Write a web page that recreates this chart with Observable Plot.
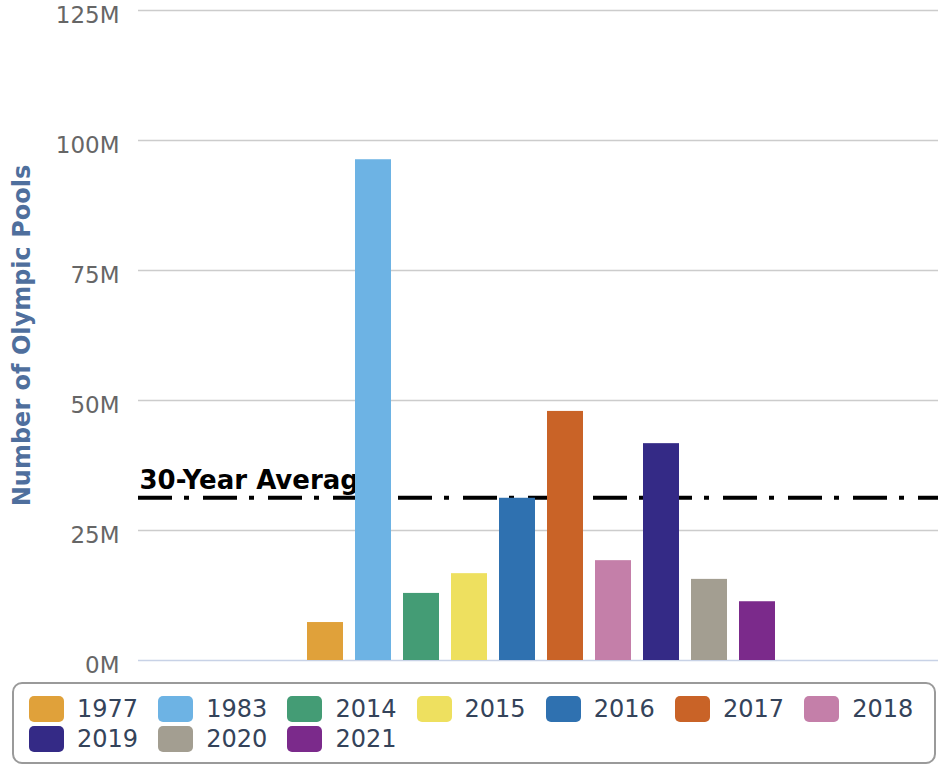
<!DOCTYPE html>
<html>
<head>
<meta charset="utf-8">
<script src="https://cdn.jsdelivr.net/npm/d3@7"></script>
<script src="https://cdn.jsdelivr.net/npm/@observablehq/plot@0.6"></script>
<style>
  html, body { margin: 0; padding: 0; background: #fff; }
  #legend {
    box-sizing: border-box;
    margin: 4px 0 0 12px;
    width: 924px;
    height: 82px;
    border: 2px solid #9a9a9a;
    border-radius: 10px;
    padding: 12px 0 0 15px;
    display: flex;
    flex-wrap: wrap;
    align-content: flex-start;
    font-family: "DejaVu Sans", sans-serif;
  }
  .item { width: 129.2px; height: 30px; display: flex; align-items: flex-start; }
  .sw { width: 35px; height: 26px; border-radius: 5px; margin-right: 13px; flex: none; }
  .lab { font-size: 24px; line-height: 26px; color: #34435a; }
</style>
</head>
<body>
<div id="chart"></div>
<div id="legend"></div>
<script>
const years = ["1977", "1983", "2014", "2015", "2016", "2017", "2018", "2019", "2020", "2021"];
const values = [7.3e6, 96.3e6, 12.9e6, 16.7e6, 31.2e6, 47.9e6, 19.2e6, 41.7e6, 15.6e6, 11.3e6];
const colors = ["#e0a13a", "#6db3e4", "#449c75", "#eee05f", "#2f71b0", "#c96327", "#c47fa9", "#342a86", "#a39e91", "#7b2a8b"];
const yTicks = [0, 25e6, 50e6, 75e6, 100e6, 125e6];
const average = 31.3e6;
const averageLabel = "30-Year Average";
const yTitle = "Number of Olympic Pools";

const data = years.map((y, i) => ({year: y, value: values[i]}));

const chart = Plot.plot({
  width: 938,
  height: 678,
  marginTop: 10,
  marginBottom: 18,
  marginLeft: 138,
  marginRight: 0,
  style: {fontFamily: "DejaVu Sans, sans-serif", background: "#fff"},
  x: {type: "band", domain: years, range: [305, 778], paddingInner: 0.24, paddingOuter: 0, axis: null},
  y: {domain: [0, 125e6], axis: null},
  color: {domain: years, range: colors},
  marks: [
    Plot.ruleY(yTicks.filter(d => d > 0), {stroke: "#cccccc", strokeWidth: 1.5}),
    Plot.ruleY([0], {stroke: "#c8d2e6", strokeWidth: 1.5}),
    Plot.axisY(yTicks, {
      tickSize: 0, tickPadding: 19, fontSize: 23, fill: "#666666", dy: 5,
      tickFormat: d => d / 1e6 + "M", label: null
    }),
    Plot.text([yTitle], {
      frameAnchor: "left", rotate: -90, dx: -116, text: d => d, textAnchor: "middle",
      fontSize: 24, fontWeight: "bold", fill: "#4f6f9d"
    }),
    Plot.ruleY([average], {stroke: "#000", strokeWidth: 4, strokeDasharray: "34,12,5,14"}),
    Plot.text([averageLabel], {
      frameAnchor: "left", y: () => average, text: d => d, textAnchor: "start",
      dx: 1, dy: -17, fontSize: 26, fontWeight: "bold", fill: "#000"
    }),
    Plot.barY(data, {x: "year", y: "value", fill: "year"})
  ]
});
document.getElementById("chart").appendChild(chart);

const legend = document.getElementById("legend");
years.forEach((y, i) => {
  const it = document.createElement("div");
  it.className = "item";
  const sw = document.createElement("div");
  sw.className = "sw";
  sw.style.background = colors[i];
  const lab = document.createElement("span");
  lab.className = "lab";
  lab.textContent = y;
  it.appendChild(sw);
  it.appendChild(lab);
  legend.appendChild(it);
});
</script>
</body>
</html>
